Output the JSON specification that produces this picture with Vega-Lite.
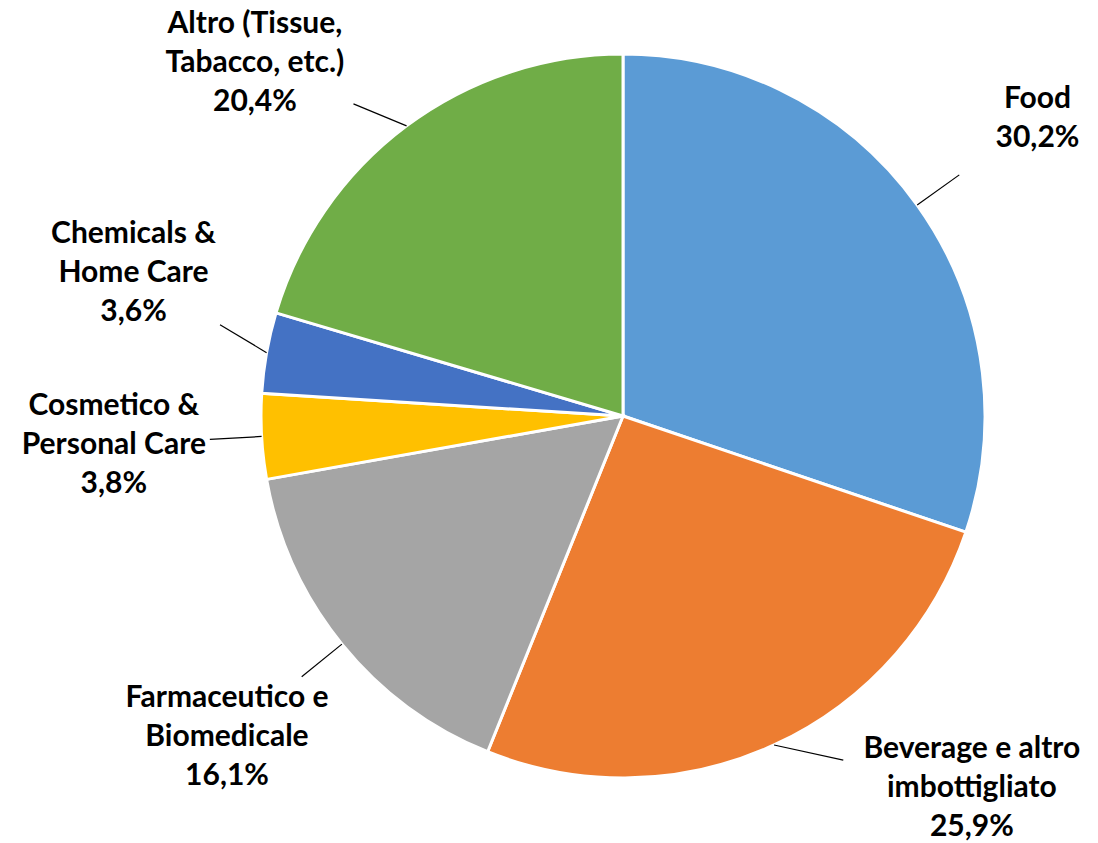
{
  "$schema": "https://vega.github.io/schema/vega-lite/v6.json",
  "width": 724,
  "height": 724,
  "autosize": {"type": "none"},
  "padding": {"left": 261, "top": 54, "right": 113, "bottom": 65},
  "background": "white",
  "config": {"view": {"stroke": null}},
  "data": {
    "values": [
      {"order": 1, "categoria": "Food", "value": 30.2},
      {"order": 2, "categoria": "Beverage e altro\nimbottigliato", "value": 25.9},
      {"order": 3, "categoria": "Farmaceutico e\nBiomedicale", "value": 16.1},
      {"order": 4, "categoria": "Cosmetico &\nPersonal Care", "value": 3.8},
      {"order": 5, "categoria": "Chemicals &\nHome Care", "value": 3.6},
      {"order": 6, "categoria": "Altro (Tissue,\nTabacco, etc.)", "value": 20.4}
    ]
  },
  "transform": [
    {"joinaggregate": [{"op": "sum", "field": "value", "as": "total"}]},
    {"window": [{"op": "sum", "field": "value", "as": "cum"}], "sort": [{"field": "order"}], "frame": [null, 0]},
    {"calculate": "(datum.cum - datum.value / 2) / datum.total * 2 * PI", "as": "mid"},
    {"calculate": "datum.categoria + '\\n' + replace(format(datum.value, '.1f'), '.', ',') + '%'", "as": "etichetta"},
    {"calculate": "length(split(datum.etichetta, '\\n'))", "as": "righe"},
    {"calculate": "sin(datum.mid) * 362", "as": "ex"},
    {"calculate": "cos(datum.mid) * 362", "as": "ey"},
    {"calculate": "clamp(cos(datum.mid) * 510, -372, 353)", "as": "ly0"},
    {"window": [{"op": "lag", "field": "ly0", "as": "prevly"}, {"op": "lag", "field": "mid", "as": "prevmid"}], "sort": [{"field": "order"}]},
    {"calculate": "(sin(datum.mid) < 0 && datum.prevmid != null && sin(datum.prevmid) < 0) ? max(datum.ly0, datum.prevly + 172) : datum.ly0", "as": "ly"},
    {"calculate": "(sin(datum.mid) < 0 ? -1 : 1) * sqrt(510 * 510 - datum.ly * datum.ly)", "as": "lx"},
    {"calculate": "datum.ly + (datum.righe - 1) * 19.5", "as": "ty"},
    {"calculate": "datum.ex + 0.35 * (datum.lx - datum.ex)", "as": "kx"},
    {"calculate": "datum.ey + 0.35 * (datum.ly - datum.ey)", "as": "ky"}
  ],
  "layer": [
    {
      "mark": {"type": "arc", "stroke": "white", "strokeWidth": 3},
      "encoding": {
        "theta": {"field": "value", "type": "quantitative", "stack": true},
        "order": {"field": "order", "type": "quantitative"},
        "color": {
          "field": "order",
          "type": "nominal",
          "scale": {"domain": [1, 2, 3, 4, 5, 6], "range": ["#5B9BD5", "#ED7D31", "#A5A5A5", "#FFC000", "#4472C4", "#70AD47"]},
          "legend": null
        }
      }
    },
    {
      "mark": {"type": "rule", "color": "black", "strokeWidth": 1.2},
      "encoding": {
        "x": {"field": "ex", "type": "quantitative", "scale": {"domain": [-362, 362], "nice": false, "zero": false}, "axis": null},
        "y": {"field": "ey", "type": "quantitative", "scale": {"domain": [-362, 362], "nice": false, "zero": false}, "axis": null},
        "x2": {"field": "kx"},
        "y2": {"field": "ky"}
      }
    },
    {
      "mark": {"type": "text", "font": "Lato", "fontWeight": "bold", "fontSize": 30, "lineBreak": "\n", "lineHeight": 39, "align": "center", "baseline": "middle", "color": "black"},
      "encoding": {
        "x": {"field": "lx", "type": "quantitative", "scale": {"domain": [-362, 362], "nice": false, "zero": false}, "axis": null},
        "y": {"field": "ty", "type": "quantitative", "scale": {"domain": [-362, 362], "nice": false, "zero": false}, "axis": null},
        "text": {"field": "etichetta"}
      }
    }
  ]
}
